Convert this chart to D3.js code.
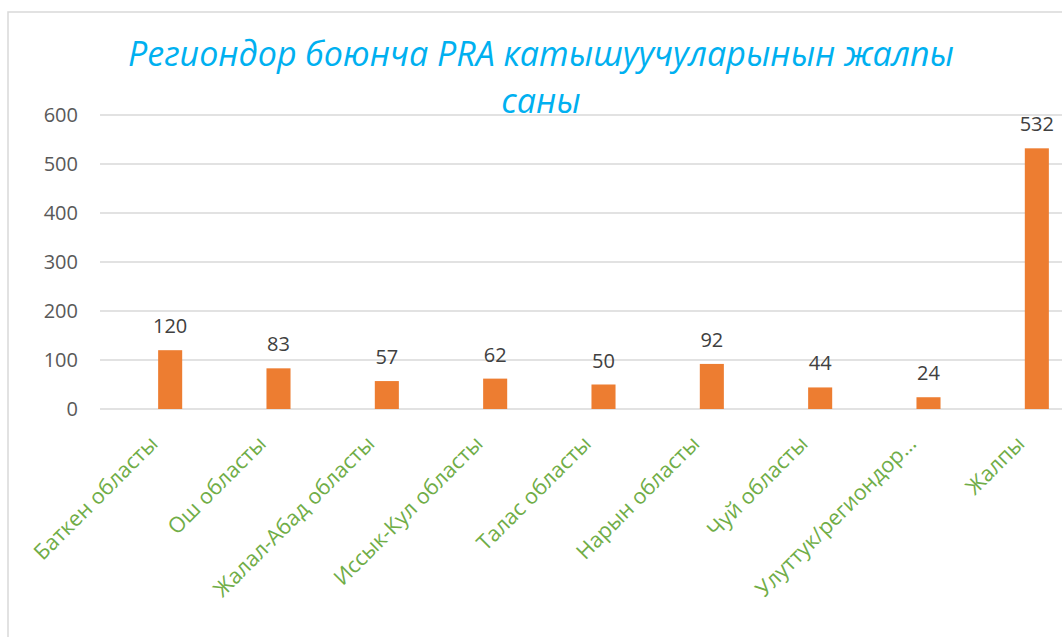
<!DOCTYPE html>
<html>
<head>
<meta charset="utf-8">
<script src="https://cdn.jsdelivr.net/npm/d3@7"></script>
<style>
  body { margin: 0; background: #fff; }
  svg { display: block; }
</style>
</head>
<body>
<div class="chart"></div>
<script>
const categories = ['Баткен областы', 'Ош областы', 'Жалал-Абад областы', 'Иссык-Кул областы',
  'Талас областы', 'Нарын областы', 'Чуй областы', 'Улуттук/региондор…', 'Жалпы'];
const values = [120, 83, 57, 62, 50, 92, 44, 24, 532];
const yTicks = [0, 100, 200, 300, 400, 500, 600];
const titleLines = ['Региондор боюнча PRA катышуучуларынын жалпы', 'саны'];

const width = 1062;
const height = 637;
const font = 'Open Sans, Liberation Sans, sans-serif';

let svg = d3.select('.chart').append('svg')
  .attr('width', width)
  .attr('height', height);

// chart frame (cut off at right/bottom like the screenshot)
svg.append('rect')
  .attr('x', 8).attr('y', 12)
  .attr('width', width + 20).attr('height', height + 20)
  .attr('fill', 'none')
  .attr('stroke', '#d9d9d9')
  .attr('stroke-width', 1.5);

let x = d3.scaleBand()
  .domain(categories)
  .range([116, 1091])
  .padding(0);

let y = d3.scaleLinear()
  .domain([0, 600])
  .range([409, 115]);

// gridlines
svg.selectAll('.grid')
  .data(yTicks)
  .enter()
  .append('line')
  .attr('x1', 100)
  .attr('x2', width)
  .attr('y1', d => y(d))
  .attr('y2', d => y(d))
  .attr('stroke', '#d9d9d9')
  .attr('stroke-width', 1.5);

// y labels
svg.selectAll('.ylab')
  .data(yTicks)
  .enter()
  .append('text')
  .attr('x', 78)
  .attr('y', d => y(d))
  .attr('dy', '0.35em')
  .attr('text-anchor', 'end')
  .style('font-family', font)
  .style('font-size', '20px')
  .style('fill', '#595959')
  .text(d => d);

const barW = x.bandwidth() * 0.222;

// bars
svg.selectAll('.bar')
  .data(values)
  .enter()
  .append('rect')
  .attr('x', (d, i) => x(categories[i]) + x.bandwidth() / 2 - barW / 2)
  .attr('y', d => y(d))
  .attr('width', barW)
  .attr('height', d => y(0) - y(d))
  .style('fill', '#ed7d31');

// value labels
svg.selectAll('.val')
  .data(values)
  .enter()
  .append('text')
  .attr('x', (d, i) => x(categories[i]) + x.bandwidth() / 2)
  .attr('y', d => y(d) - 17)
  .attr('text-anchor', 'middle')
  .style('font-family', font)
  .style('font-size', '20px')
  .style('fill', '#404040')
  .text(d => d);

// category labels, rotated
svg.selectAll('.xlab')
  .data(categories)
  .enter()
  .append('text')
  .attr('transform', d => `translate(${x(d) + x.bandwidth() / 2 - 11},${445}) rotate(-45)`)
  .attr('text-anchor', 'end')
  .style('font-family', font)
  .style('font-size', '21.5px')
  .style('fill', '#70ad47')
  .text(d => d);

// title
svg.selectAll('.title')
  .data(titleLines)
  .enter()
  .append('text')
  .attr('x', 541)
  .attr('y', (d, i) => 66 + i * 47)
  .attr('text-anchor', 'middle')
  .style('font-family', font)
  .style('font-size', '34px')
  .style('font-style', 'italic')
  .style('fill', '#00b0f0')
  .text(d => d);
</script>
</body>
</html>
